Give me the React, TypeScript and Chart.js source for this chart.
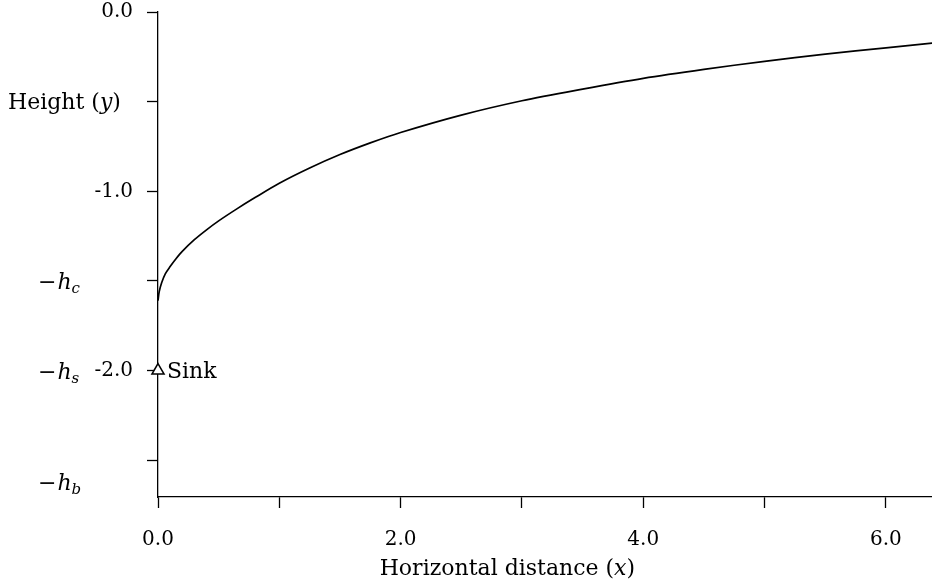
import React, { useEffect, useRef } from "react";
import { Chart, registerables } from "chart.js";

Chart.register(...registerables);

// Curve: height y versus horizontal distance x
const curveX = [0, 0.01, 0.03, 0.06, 0.1, 0.15, 0.2, 0.3, 0.4, 0.5, 0.65, 0.8, 1.0, 1.25, 1.5, 1.75, 2.0, 2.5, 3.0, 3.5, 4.0, 4.5, 5.0, 5.5, 6.0, 6.4];
const curveY = [-1.61, -1.56, -1.51, -1.46, -1.42, -1.375, -1.335, -1.27, -1.215, -1.165, -1.098, -1.035, -0.955, -0.87, -0.795, -0.73, -0.672, -0.575, -0.495, -0.43, -0.37, -0.32, -0.275, -0.235, -0.2, -0.172];

// Sink marker
const sinkX = [0];
const sinkY = [-2.0];
const sinkLabel = "Sink";

// Axis ticks
const xTicks = [0, 1, 2, 3, 4, 5, 6];
const xTickLabels = ["0.0", "", "2.0", "", "4.0", "", "6.0"];
const yTicks = [0, -0.5, -1, -1.5, -2, -2.5];
const yTickLabels = ["0.0", "", "-1.0", "", "-2.0", ""];

// Symbolic levels on the y axis
const symbolNames = ["c", "s", "b"];
const symbolLevels = [-1.5, -2.0, -2.62];

const xTitleParts = ["Horizontal distance (", "x", ")"];
const yTitleParts = ["Height (", "y", ")"];
const yTitleLevel = -0.5;

const X_MIN = 0;
const X_MAX = 6.38;
const Y_MIN = -2.705;
const Y_MAX = 0;

const FONT = "DejaVu Serif";
const TICK_SIZE = 20;
const TITLE_SIZE = 22;

function drawParts(ctx: CanvasRenderingContext2D, parts: string[], x: number, y: number, size: number, align: "left" | "center") {
  const fonts = parts.map((_, i) => (i % 2 === 1 ? `italic ${size}px "${FONT}"` : `${size}px "${FONT}"`));
  let total = 0;
  const widths = parts.map((p, i) => {
    ctx.font = fonts[i];
    const w = ctx.measureText(p).width;
    total += w;
    return w;
  });
  let cx = align === "center" ? x - total / 2 : x;
  ctx.textAlign = "left";
  parts.forEach((p, i) => {
    ctx.font = fonts[i];
    ctx.fillText(p, cx, y);
    cx += widths[i];
  });
}

const labelsPlugin = {
  id: "labelsPlugin",
  afterDraw(chart: any) {
    const ctx: CanvasRenderingContext2D = chart.ctx;
    const xs = chart.scales.x;
    const ys = chart.scales.y;
    ctx.save();
    ctx.fillStyle = "#000";
    ctx.textBaseline = "alphabetic";

    // y title
    drawParts(ctx, yTitleParts, 8, ys.getPixelForValue(yTitleLevel) + 7, TITLE_SIZE, "left");

    // x title
    drawParts(ctx, xTitleParts, xs.getPixelForValue(2.88), 575, TITLE_SIZE, "center");

    // symbolic levels -h_c, -h_s, -h_b
    symbolNames.forEach((name, i) => {
      const py = ys.getPixelForValue(symbolLevels[i]) + 8;
      let px = 38;
      ctx.font = `${TITLE_SIZE}px "${FONT}"`;
      ctx.fillText("\u2212", px, py);
      px += ctx.measureText("\u2212").width + 1;
      ctx.font = `italic ${TITLE_SIZE}px "${FONT}"`;
      ctx.fillText("h", px, py);
      px += ctx.measureText("h").width;
      ctx.font = `italic 15px "${FONT}"`;
      ctx.fillText(name, px, py + 4);
    });

    // sink label
    ctx.font = `${TITLE_SIZE}px "${FONT}"`;
    ctx.textBaseline = "middle";
    ctx.fillText(sinkLabel, xs.getPixelForValue(sinkX[0]) + 9, ys.getPixelForValue(sinkY[0]) + 2);
    ctx.restore();
  },
};

export default function App() {
  const ref = useRef<HTMLCanvasElement | null>(null);
  useEffect(() => {
    if (!ref.current) return;
    const chart = new Chart(ref.current, {
      type: "scatter",
      data: {
        datasets: [
          {
            data: curveX.map((x, i) => ({ x, y: curveY[i] })),
            showLine: true,
            borderColor: "#000",
            borderWidth: 1.7,
            pointRadius: 0,
            tension: 0.3,
            fill: false,
          },
          {
            data: sinkX.map((x, i) => ({ x, y: sinkY[i] })),
            showLine: false,
            pointStyle: "triangle",
            pointRadius: 7,
            pointBackgroundColor: "#fff",
            pointBorderColor: "#000",
            pointBorderWidth: 1.5,
          },
        ],
      },
      options: {
        responsive: false,
        animation: false,
        clip: false as any,
        layout: { autoPadding: false, padding: { top: 12, left: 0, right: 0, bottom: 0 } },
        plugins: { legend: { display: false }, tooltip: { enabled: false } },
        scales: {
          x: {
            type: "linear",
            min: X_MIN,
            max: X_MAX,
            afterBuildTicks: (s: any) => {
              s.ticks = xTicks.map((v) => ({ value: v }));
            },
            afterFit: (s: any) => {
              s.height = 85;
              s.paddingLeft = 0;
              s.paddingRight = 0;
            },
            grid: { drawOnChartArea: false, drawTicks: true, tickLength: 11, tickColor: "#000", tickWidth: 1.3 },
            border: { display: true, color: "#000", width: 1.3 },
            ticks: {
              color: "#000",
              padding: 20,
              maxRotation: 0,
              autoSkip: false,
              font: { family: FONT, size: TICK_SIZE },
              callback: (v: any) => {
                const i = xTicks.indexOf(Number(v));
                return i >= 0 ? xTickLabels[i] : "";
              },
            },
          },
          y: {
            type: "linear",
            min: Y_MIN,
            max: Y_MAX,
            afterBuildTicks: (s: any) => {
              s.ticks = yTicks.map((v) => ({ value: v }));
            },
            afterFit: (s: any) => {
              s.width = 158;
              s.paddingTop = 0;
              s.paddingBottom = 0;
            },
            grid: { drawOnChartArea: false, drawTicks: true, tickLength: 11, tickColor: "#000", tickWidth: 1.3 },
            border: { display: true, color: "#000", width: 1.3 },
            ticks: {
              color: "#000",
              padding: 14,
              autoSkip: false,
              font: { family: FONT, size: TICK_SIZE },
              callback: (v: any) => {
                const i = yTicks.indexOf(Number(v));
                return i >= 0 ? yTickLabels[i] : "";
              },
            },
          },
        },
      },
      plugins: [labelsPlugin],
    });
    return () => chart.destroy();
  }, []);
  return (
    <div style={{ position: "fixed", left: 0, top: 0, width: 932, height: 582, background: "#fff" }}>
      <canvas ref={ref} width={932} height={582} />
    </div>
  );
}
